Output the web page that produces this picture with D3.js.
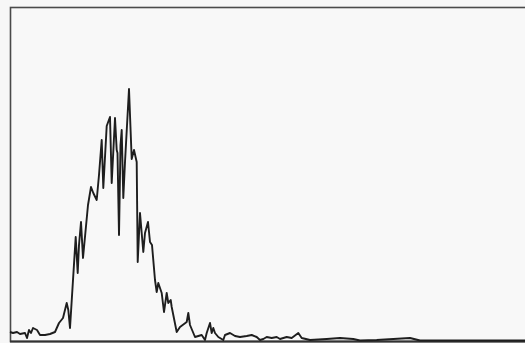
<!DOCTYPE html>
<html>
<head>
<meta charset="utf-8">
<script src="https://cdn.jsdelivr.net/npm/d3@7"></script>
<style>
  html, body { margin: 0; padding: 0; background: #f7f7f7; }
  svg { display: block; }
</style>
</head>
<body>
<svg id="chart" width="525" height="343"></svg>
<script>
// Histogram channels (x) and event counts (y)
const channels = [
  0, 3, 7, 10, 15, 17, 19, 21, 23, 27, 30, 35, 40, 45, 49, 53, 56.7, 58.3, 60,
  65.7, 67.7, 69, 71, 73, 78, 81, 83.3, 86.7, 89, 91.7, 93.3, 96.7, 100, 101.7,
  105, 106.7, 107.5, 109, 110.5, 111.7, 113.3, 115, 119, 121.7, 124, 126.7,
  127.7, 130, 133.3, 135, 138, 140, 142, 145, 146.7, 148.3, 151.7, 154, 156.7,
  158.3, 160.7, 161.7, 166.7, 170, 176.7, 178.3, 180, 185, 191.7, 195, 196.7,
  200, 201.7, 203.3, 205, 208.3, 213.3, 215, 220, 225, 230, 236.7, 241.7,
  246.7, 250, 253.3, 256.7, 261.7, 266.7, 270, 276.7, 281.7, 288.3, 291.7,
  300, 316.7, 330, 343.3, 350, 366.7, 400, 410, 515
];
const counts = [
  9, 8, 9, 7, 8, 3, 11, 8, 13, 11, 6, 6, 7, 9, 18, 23, 38, 31, 13,
  104, 68, 96, 119, 83, 136, 154, 148, 141, 166, 201, 153, 215, 224, 158,
  223, 191, 188, 106, 196, 211, 143, 179, 252, 182, 191, 179,
  79, 128, 89, 108, 119, 99, 96, 61, 49, 58, 48, 29, 48,
  38, 41, 34, 9, 14, 19, 28, 16, 4, 6, 1, 8,
  18, 8, 13, 8, 4, 1, 6, 8, 5, 4, 5, 6,
  4, 1, 2, 4, 3, 4, 2, 4, 3, 8, 3,
  1, 2, 3, 2, 0.5, 1, 3, 0.5, 0.5
];
const xDomain = [0, 520];
const yDomain = [0, 334];

const svg = d3.select("#chart");
const x = d3.scaleLinear().domain(xDomain).range([10, 530]);
const y = d3.scaleLinear().domain(yDomain).range([341, 7]);

const data = channels.map((c, i) => ({ c, n: counts[i] }));

// plot frame (right side runs off the edge)
svg.append("rect")
  .attr("x", 10.5).attr("y", 7.5)
  .attr("width", 530).attr("height", 334)
  .attr("fill", "#f8f8f8")
  .attr("stroke", "#4a4a4a")
  .attr("stroke-width", 1.6);

// darker baseline along the bottom edge
svg.append("line")
  .attr("x1", 10).attr("x2", 525)
  .attr("y1", 341.5).attr("y2", 341.5)
  .attr("stroke", "#333")
  .attr("stroke-width", 2);

// histogram trace
const line = d3.line()
  .x(d => x(d.c))
  .y(d => y(d.n));

svg.append("path")
  .datum(data)
  .attr("d", line)
  .attr("fill", "none")
  .attr("stroke", "#1e1e1e")
  .attr("stroke-width", 1.9)
  .attr("stroke-linejoin", "round");
</script>
</body>
</html>
